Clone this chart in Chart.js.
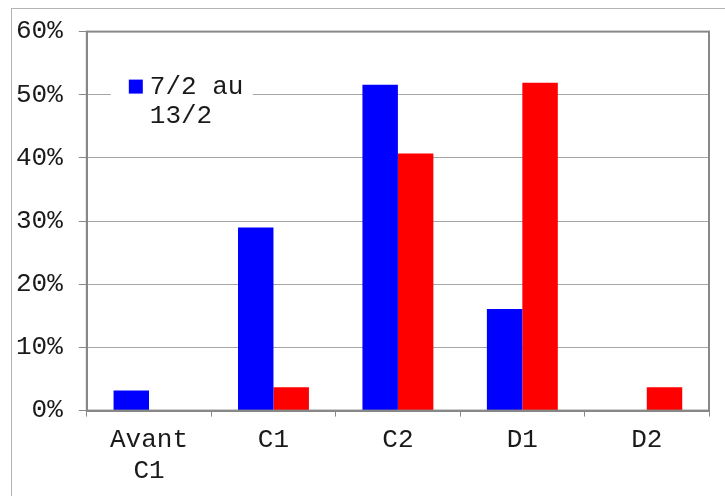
<!DOCTYPE html>
<html lang="fr">
<head>
  <meta charset="UTF-8" />
  <title>Répartition par niveau</title>
  <script src="https://cdn.jsdelivr.net/npm/chart.js"></script>
  <style>
    html, body { margin: 0; padding: 0; background: #fff; }
    .chart-container { width: 725px; height: 496px; position: relative; }
  </style>
</head>
<body>
  <div class="chart-container">
    <canvas id="niveauxChart"></canvas>
  </div>

  <script>
    // donnees
    const categories = [['Avant', 'C1'], 'C1', 'C2', 'D1', 'D2'];
    const serieLabels = ['7/2 au 13/2', '14/2 au 20/2'];
    const serieBleue = [3.2, 29.0, 51.6, 16.1, 0];
    const serieRouge = [0, 3.7, 40.7, 51.9, 3.7];
    const yTicks = [0, 10, 20, 30, 40, 50, 60];

    const police = { family: "'Liberation Mono', monospace", size: 26 };

    // cadre exterieur + cadre de la zone de tracé
    const cadres = {
      id: 'cadres',
      beforeDraw(chart) {
        const c = chart.ctx;
        c.save();
        c.strokeStyle = '#b4b4b4';
        c.lineWidth = 1;
        c.strokeRect(11.5, 8.5, 1000, 1000);
        c.restore();
      },
      afterDraw(chart) {
        const a = chart.chartArea;
        const c = chart.ctx;
        c.save();
        c.strokeStyle = '#888888';
        c.lineWidth = 2;
        c.strokeRect(a.left, a.top, a.right - a.left, a.bottom - a.top);
        c.restore();
      }
    };

    // legende a l'interieur du graphique (seulement la premiere serie)
    const legendeInterne = {
      id: 'legendeInterne',
      afterDraw(chart) {
        const a = chart.chartArea;
        const c = chart.ctx;
        const ds = chart.data.datasets[0];
        c.save();
        c.font = police.size + 'px ' + police.family;
        const mots = ds.label.split(' ');
        const lignes = [];
        let cur = '';
        for (let i = 0; i < mots.length; i++) {
          const essai = cur ? cur + ' ' + mots[i] : mots[i];
          if (c.measureText(essai).width > 100 && cur) {
            lignes.push(cur);
            cur = mots[i];
          } else {
            cur = essai;
          }
        }
        lignes.push(cur);

        const x0 = a.left + 24;
        const y0 = a.top + 36;
        c.fillStyle = '#ffffff';
        c.fillRect(x0, y0, 142, 66);
        c.fillStyle = ds.backgroundColor;
        c.fillRect(x0 + 18, y0 + 12, 14, 14);
        c.fillStyle = '#1a1a1a';
        c.textBaseline = 'alphabetic';
        c.textAlign = 'left';
        for (let i = 0; i < lignes.length; i++) {
          c.fillText(lignes[i], x0 + 39, y0 + 26 + i * 29.5);
        }
        c.restore();
      }
    };

    const ctx = document.getElementById('niveauxChart').getContext('2d');

    const niveauxChart = new Chart(ctx, {
      type: 'bar',
      data: {
        labels: categories,
        datasets: [{
          label: serieLabels[0],
          data: serieBleue,
          backgroundColor: '#0000ff',
          borderWidth: 0
        }, {
          label: serieLabels[1],
          data: serieRouge,
          backgroundColor: '#ff0000',
          borderWidth: 0
        }]
      },
      options: {
        responsive: true,
        maintainAspectRatio: false,
        animation: false,
        datasets: {
          bar: {
            categoryPercentage: 0.57,
            barPercentage: 1
          }
        },
        layout: {
          padding: { left: 0, right: 16, top: 19, bottom: 1 }
        },
        scales: {
          x: {
            offset: true,
            grid: {
              offset: true,
              drawOnChartArea: false,
              drawTicks: true,
              tickLength: 6,
              color: '#888888'
            },
            border: { color: '#888888', width: 2 },
            ticks: {
              color: '#1a1a1a',
              font: police,
              padding: 8,
              maxRotation: 0,
              autoSkip: false
            }
          },
          y: {
            min: 0,
            max: 60,
            afterBuildTicks(scale) {
              scale.ticks = yTicks.map(v => ({ value: v }));
            },
            grid: {
              color: '#a6a6a6',
              tickLength: 8,
              tickColor: '#888888'
            },
            border: { color: '#888888', width: 2 },
            ticks: {
              color: '#1a1a1a',
              font: police,
              padding: 16,
              callback: v => v + '%'
            }
          }
        },
        plugins: {
          legend: { display: false },
          tooltip: { enabled: false }
        }
      },
      plugins: [cadres, legendeInterne]
    });
  </script>
</body>
</html>
